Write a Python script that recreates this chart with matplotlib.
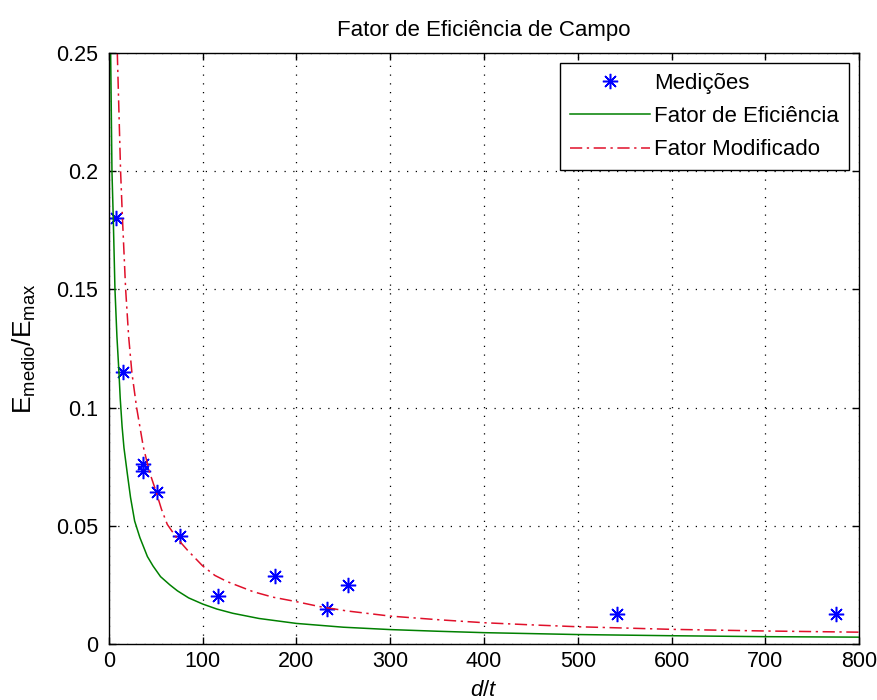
import numpy as np
import matplotlib
matplotlib.use('Agg')
import matplotlib.pyplot as plt

plt.rcParams['font.family'] = ['Liberation Sans', 'DejaVu Sans']
plt.rcParams['mathtext.fontset'] = 'custom'
plt.rcParams['mathtext.rm'] = 'Liberation Sans'
plt.rcParams['mathtext.it'] = 'Liberation Sans:italic'

# medicoes
dt_med = [7, 14.9, 36.6, 36.6, 51.5, 75.7, 116.3, 177, 232.2, 254.6, 542.2, 775.5]
e_med = [0.180, 0.1149, 0.0761, 0.0732, 0.0644, 0.0458, 0.0204, 0.0288, 0.0148, 0.025, 0.0126, 0.0126]

# fator de eficiencia
dt_ef = [1.8, 3.2, 4.6, 6.4, 8.5, 10.7, 12, 14, 16, 19.6, 23, 27.4, 33, 41, 47, 55, 65,
         73, 85, 100, 115, 132, 160, 200, 250, 300, 350, 400, 500, 600, 700, 800]
e_ef = [0.25, 0.2, 0.18, 0.15, 0.13, 0.1146, 0.104, 0.092, 0.083, 0.072, 0.062, 0.052,
        0.045, 0.037, 0.033, 0.0285, 0.025, 0.0225, 0.0195, 0.0169, 0.0148, 0.013,
        0.0108, 0.0087, 0.0071, 0.0061, 0.0054, 0.0048, 0.0040, 0.0035, 0.0031, 0.0029]

# fator modificado
dt_mod = [8.9, 12.4, 14.4, 17.8, 21, 24.5, 29.5, 36.6, 43, 49.8, 56, 62.2, 72, 83.5,
          100, 113, 126, 154, 175, 200, 225, 253.5, 300, 350, 400, 450, 500, 600, 700, 800]
e_mod = [0.25, 0.2, 0.18, 0.15, 0.13, 0.1146, 0.1, 0.0835, 0.073, 0.065, 0.057, 0.0506,
         0.045, 0.0398, 0.033, 0.029, 0.0264, 0.0221, 0.0198, 0.0179, 0.0158, 0.014,
         0.0118, 0.0103, 0.009, 0.0081, 0.0073, 0.0062, 0.0055, 0.0050]

xticks = [0, 100, 200, 300, 400, 500, 600, 700, 800]
yticks = [0, 0.05, 0.1, 0.15, 0.2, 0.25]
ytick_labels = ['0', '0.05', '0.1', '0.15', '0.2', '0.25']

fig = plt.figure(figsize=(8.78, 7.0), dpi=100)
ax = fig.add_axes([0.1241, 0.08, 0.8543, 0.8443])

ax.plot(dt_med, e_med, linestyle='none', marker=(8, 2, 0), markersize=11,
        markeredgewidth=1.1, color='#0000ff', label='Medições')
ax.plot(dt_ef, e_ef, color='#008000', lw=1.1, label='Fator de Eficiência')
ax.plot(dt_mod, e_mod, color='#e0102a', lw=1.1, dashes=(8, 3, 1.5, 3),
        label='Fator Modificado')

ax.set_xlim(0, 800)
ax.set_ylim(0, 0.25)
ax.set_xticks(xticks)
ax.set_yticks(yticks)
ax.set_yticklabels(ytick_labels)
ax.tick_params(direction='in', length=5, top=True, right=True, labelsize=15.5,
               width=1)
ax.tick_params(axis='y', pad=8)
ax.tick_params(axis='x', pad=5)
ax.grid(True, color='black', linestyle=(0, (1, 6)), linewidth=0.9)
for s in ax.spines.values():
    s.set_linewidth(1.0)

ax.set_title('Fator de Eficiência de Campo', fontsize=16, pad=12)
ax.set_xlabel('$d/t$', fontsize=16, labelpad=6)
ax.set_ylabel(r'E$_{\mathrm{medio}}$/E$_{\mathrm{max}}$', fontsize=19)
ax.yaxis.set_label_coords(-0.095, 0.5)

leg = ax.legend(loc='upper right', fontsize=16, handlelength=3.6, fancybox=False,
                edgecolor='black', framealpha=1, borderpad=0.45, labelspacing=0.55,
                handletextpad=0.2, borderaxespad=0.45)
leg.get_frame().set_linewidth(1.0)

fig.savefig('out.png', dpi=100)
